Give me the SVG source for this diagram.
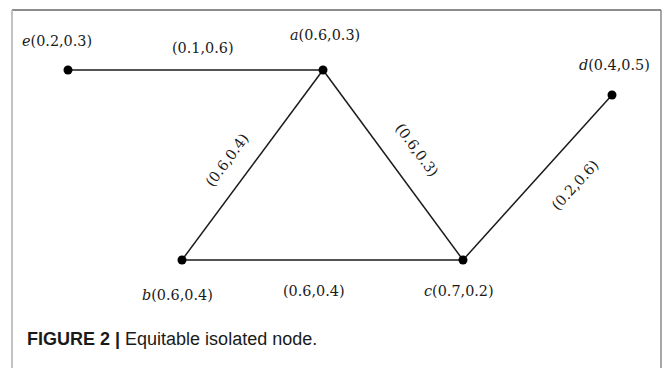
<svg xmlns="http://www.w3.org/2000/svg" width="664" height="368" viewBox="0 0 664 368">
<style>
.lbl{font-family:"DejaVu Serif","Liberation Serif",serif;font-size:14.4px;fill:#1a1a1a}
.it{font-style:italic}
.edge{stroke:#1a1a1a;stroke-width:1.5;fill:none}
.dot{fill:#000}
.cap{font-family:"Liberation Sans",Arial,sans-serif;font-size:18px;fill:#1a1a1a}
</style>
<rect width="664" height="368" fill="#fff"/>
<g id="frame">
<line x1="12" y1="10" x2="661" y2="10" stroke="#666" stroke-width="1.3"/>
<line x1="661" y1="10" x2="661" y2="368" stroke="#777" stroke-width="1.3"/>
<line x1="12" y1="10" x2="12" y2="368" stroke="#bbb" stroke-width="1.8"/>
</g>
<g id="connectors">
<line class="edge" x1="68" y1="70" x2="323" y2="70"/>
<line class="edge" x1="323" y1="70" x2="182" y2="260"/>
<line class="edge" x1="323" y1="70" x2="463" y2="260"/>
<line class="edge" x1="182" y1="260" x2="463" y2="260"/>
<line class="edge" x1="463" y1="260" x2="612" y2="95"/>
<text class="lbl" x="172" y="53">(0.1,0.6)</text>
<text class="lbl" x="283" y="296">(0.6,0.4)</text>
<text class="lbl" text-anchor="middle" transform="translate(227,160) rotate(-53.4)" y="5">(0.6,0.4)</text>
<text class="lbl" text-anchor="middle" transform="translate(417,150) rotate(53.8)" y="5">(0.6,0.3)</text>
<text class="lbl" text-anchor="middle" transform="translate(575,185) rotate(-47.7)" y="5">(0.2,0.6)</text>
</g>
<g id="node-e">
<circle class="dot" cx="68" cy="70" r="4.5"/>
<text class="lbl" x="22" y="46"><tspan class="it">e</tspan>(0.2,0.3)</text>
</g>
<g id="node-a">
<circle class="dot" cx="323" cy="70" r="4.5"/>
<text class="lbl" x="290" y="40"><tspan class="it">a</tspan>(0.6,0.3)</text>
</g>
<g id="node-d">
<circle class="dot" cx="612" cy="95" r="4.5"/>
<text class="lbl" x="579" y="70"><tspan class="it">d</tspan>(0.4,0.5)</text>
</g>
<g id="node-b">
<circle class="dot" cx="182" cy="260" r="4.5"/>
<text class="lbl" x="142" y="300"><tspan class="it">b</tspan>(0.6,0.4)</text>
</g>
<g id="node-c">
<circle class="dot" cx="463" cy="260" r="4.5"/>
<text class="lbl" x="424" y="296"><tspan class="it">c</tspan>(0.7,0.2)</text>
</g>
<g id="caption">
<text class="cap" x="27" y="345"><tspan font-weight="bold">FIGURE 2</tspan><tspan font-weight="bold"> | </tspan>Equitable isolated node.</text>
</g>
</svg>
